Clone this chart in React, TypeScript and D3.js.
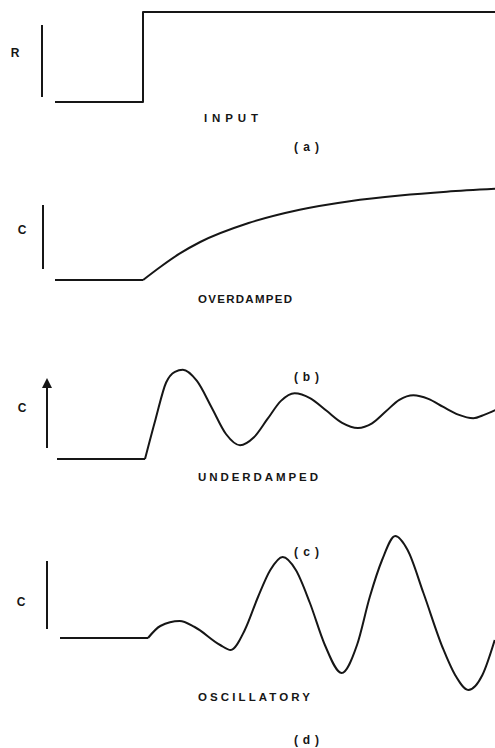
import React from 'react';
import * as d3 from 'd3';

// time runs from -1 (left end of the baseline) to 4 (right edge); the step is at t = 0
const stepTime = [-1, 0, 4];
const stepValue = [0, 1, 1];

const overTime = [0, 0.2, 0.42, 0.65, 1.2, 1.78, 2.35, 2.92, 3.45, 4];
const overValue = [0, 0.14, 0.28, 0.4, 0.6, 0.74, 0.83, 0.89, 0.93, 0.96];

const underTime = [
  0, 0.12, 0.24, 0.34, 0.43, 0.59, 0.76, 0.92, 1.08, 1.235, 1.39, 1.545, 1.7,
  1.88, 2.06, 2.24, 2.42, 2.58, 2.735, 2.89, 3.05, 3.22, 3.39, 3.56, 3.73, 3.86, 3.98,
];
const underValue = [
  0, 0.78, 1.5, 1.71, 1.75, 1.53, 1.0, 0.49, 0.27, 0.42, 0.78, 1.14, 1.29,
  1.19, 0.95, 0.71, 0.61, 0.7, 0.93, 1.16, 1.25, 1.18, 1.02, 0.87, 0.8, 0.87, 0.96,
];

const oscTime = [
  0, 0.14, 0.36, 0.53, 0.82, 0.94, 1.1, 1.25, 1.39, 1.53, 1.68, 1.84, 2.01, 2.2,
  2.375, 2.52, 2.66, 2.81, 2.95, 3.13, 3.35, 3.49, 3.64, 3.8, 3.94,
];
const oscValue = [
  0, 0.24, 0.34, 0.22, -0.14, -0.24, 0.16, 0.82, 1.36, 1.62, 1.36, 0.7, -0.14, -0.7,
  -0.14, 0.82, 1.56, 2.04, 1.76, 0.9, -0.2, -0.74, -1.04, -0.74, -0.04,
];

const axisLabels = ['R', 'C', 'C', 'C'];
const curveNames = ['INPUT', 'OVERDAMPED', 'UNDERDAMPED', 'OSCILLATORY'];
const captions = ['(a)', '(b)', '(c)', '(d)'];

type Pt = [number, number];
const zip = (t: number[], v: number[]): Pt[] => t.map((d, i) => [d, v[i]]);

const ink = '#161616';

// layout of each panel (pixel placement only)
const panels = [
  { x0: 55, y0: 102, y1: 12, axisX: 42, axisTop: 25, axisBottom: 97, arrow: false, labelX: 15, labelY: 53, nameX: 204, nameY: 122, nameW: 54, capY: 151 },
  { x0: 55, y0: 280, y1: 185, axisX: 43, axisTop: 205, axisBottom: 269, arrow: false, labelX: 22, labelY: 230, nameX: 198, nameY: 303, nameW: 94, capY: 381 },
  { x0: 57, y0: 459, y1: 408, axisX: 47, axisTop: 378, axisBottom: 448, arrow: true, labelX: 22, labelY: 408, nameX: 198, nameY: 481, nameW: 120, capY: 556 },
  { x0: 60, y0: 638, y1: 588, axisX: 47, axisTop: 561, axisBottom: 629, arrow: false, labelX: 21, labelY: 602, nameX: 198, nameY: 701, nameW: 112, capY: 744 },
];

const responses: Pt[][] = [
  zip(stepTime, stepValue),
  zip(overTime, overValue),
  zip(underTime, underValue),
  zip(oscTime, oscValue),
];

const App: React.FC = () => {
  const width = 495;
  const height = 748;

  return (
    <svg
      width={width}
      height={height}
      style={{ position: 'absolute', left: 0, top: 0, background: '#fff' }}
      fontFamily="'Liberation Sans', Arial, sans-serif"
    >
      {panels.map((p, i) => {
        const x = d3.scaleLinear().domain([-1, 4]).range([p.x0, p.x0 + 440]);
        const y = d3.scaleLinear().domain([0, 1]).range([p.y0, p.y1]);

        let paths: string[];
        if (i === 0) {
          const step = d3.line<Pt>().x(d => x(d[0])).y(d => y(d[1])).curve(d3.curveStepAfter);
          paths = [step(responses[0]) || ''];
        } else {
          const flat = d3.line<Pt>().x(d => x(d[0])).y(d => y(d[1]));
          const smooth = d3.line<Pt>().x(d => x(d[0])).y(d => y(d[1])).curve(d3.curveMonotoneX);
          paths = [flat([[-1, 0], [0, 0]]) || '', smooth(responses[i]) || ''];
        }

        return (
          <g key={i}>
            <line
              x1={p.axisX} x2={p.axisX}
              y1={p.axisBottom} y2={p.arrow ? p.axisTop + 8 : p.axisTop}
              stroke={ink} strokeWidth={2}
            />
            {p.arrow && (
              <path
                d={`M${p.axisX},${p.axisTop} L${p.axisX - 5},${p.axisTop + 10} L${p.axisX + 5},${p.axisTop + 10} Z`}
                fill={ink}
              />
            )}
            {paths.map((d, j) => (
              <path key={j} d={d} fill="none" stroke={ink} strokeWidth={2} strokeLinejoin="round" />
            ))}
            <text x={p.labelX} y={p.labelY} dy="0.36em" textAnchor="middle" fontSize={12} fontWeight="bold" fill={ink}>
              {axisLabels[i]}
            </text>
            <text
              x={p.nameX} y={p.nameY} fontSize={11.5} fontWeight="bold" fill={ink}
              textLength={p.nameW} lengthAdjust="spacing"
            >
              {curveNames[i]}
            </text>
            <text
              x={294} y={p.capY} fontSize={12} fontWeight="bold" fill={ink}
              textLength={25} lengthAdjust="spacing"
            >
              {captions[i]}
            </text>
          </g>
        );
      })}
    </svg>
  );
};

export default App;
